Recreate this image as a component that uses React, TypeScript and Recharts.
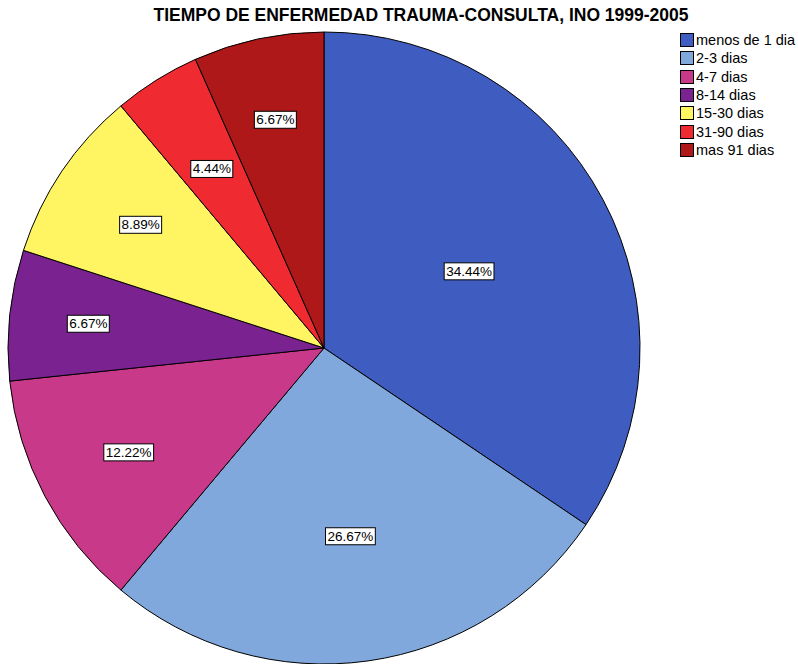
import { PieChart, Pie, Cell, Legend } from 'recharts';

const categories = ['menos de 1 dia', '2-3 dias', '4-7 dias', '8-14 dias', '15-30 dias', '31-90 dias', 'mas 91 dias'];
const percentages = [34.44, 26.67, 12.22, 6.67, 8.89, 4.44, 6.67];
const colors = ['#3F5DC0', '#80A8DC', '#C8398A', '#7A2290', '#FFF462', '#EF2A30', '#AE1818'];
// how far out (fraction of radius) each label sits
const labelDist = [0.52, 0.6, 0.7, 0.75, 0.7, 0.67, 0.74];

const data = categories.map((name, i) => ({ name, value: percentages[i] }));

const RADIAN = Math.PI / 180;

function SliceLabel(props: any) {
    const { cx, cy, midAngle, outerRadius, index } = props;
    const r = outerRadius * labelDist[index];
    const x = cx + r * Math.cos(-midAngle * RADIAN);
    const y = cy + r * Math.sin(-midAngle * RADIAN);
    const text = percentages[index].toFixed(2) + '%';
    const w = text.length * 7.8 + 3;
    return (
        <g>
            <rect x={x - w / 2} y={y - 8} width={w} height={17} fill="#fff" stroke="#000" strokeWidth={1} />
            <text x={x} y={y + 5} textAnchor="middle" fontSize={13.5} fill="#000" fontFamily="Liberation Sans, Arial, sans-serif">
                {text}
            </text>
        </g>
    );
}

function LegendBox() {
    return (
        <div style={{ fontFamily: 'Liberation Sans, Arial, sans-serif', fontSize: 14.5, color: '#000' }}>
            {data.map((d, i) => (
                <div key={d.name} style={{ display: 'flex', alignItems: 'center', height: 18.3, whiteSpace: 'nowrap' }}>
                    <span style={{ width: 14, height: 14, background: colors[i], border: '1px solid #000', marginRight: 2, boxSizing: 'border-box', flexShrink: 0 }} />
                    <span>{d.name}</span>
                </div>
            ))}
        </div>
    );
}

export default function App() {
    return (
        <div style={{ position: 'absolute', left: 0, top: 0, width: 798, height: 664, background: '#fff' }}>
            <PieChart width={798} height={664} margin={{ top: 0, right: 0, bottom: 0, left: 0 }}>
                <text x={421} y={21} textAnchor="middle" fontSize={17.5} fontWeight="bold" fill="#000" fontFamily="Liberation Sans, Arial, sans-serif">
                    TIEMPO DE ENFERMEDAD TRAUMA-CONSULTA, INO 1999-2005
                </text>
                <Pie
                    data={data}
                    dataKey="value"
                    nameKey="name"
                    cx={324}
                    cy={348}
                    outerRadius={316}
                    startAngle={90}
                    endAngle={-270}
                    stroke="#000"
                    strokeWidth={1}
                    label={SliceLabel}
                    labelLine={false}
                    isAnimationActive={false}
                >
                    {data.map((d, i) => (
                        <Cell key={d.name} fill={colors[i]} />
                    ))}
                </Pie>
                <Legend
                    layout="vertical"
                    verticalAlign="top"
                    align="right"
                    content={<LegendBox />}
                    wrapperStyle={{ top: 31, left: 680, width: 118 }}
                />
            </PieChart>
        </div>
    );
}
